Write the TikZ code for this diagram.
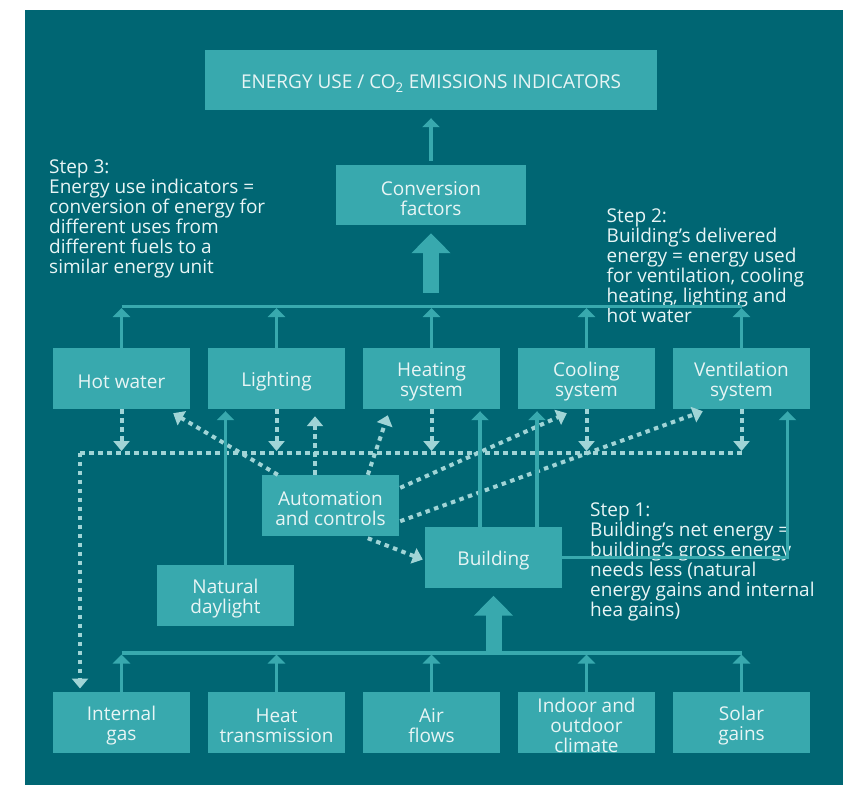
\documentclass[tikz,border=0pt]{standalone}
\usepackage{fontspec}
\setmainfont{Open Sans}
\usetikzlibrary{arrows.meta,calc}
\definecolor{bgc}{HTML}{006673}
\definecolor{boxc}{HTML}{38A9AE}
\definecolor{txtc}{HTML}{E8F5F5}
\definecolor{dotc}{HTML}{A0D4D6}
\newcommand{\fs}{\fontsize{19}{20}\selectfont}
\newcommand{\tallfirst}{\rule{0pt}{20.5pt}}
\begin{document}
\begin{tikzpicture}[x=1pt,y=-1pt,
  box/.style={fill=boxc, text=txtc, minimum width=137pt, minimum height=61pt, align=center, inner sep=0pt, font=\fs},
  steptxt/.style={text=txtc, align=left, inner sep=0pt, font=\fs, anchor=north west},
  solidarr/.style={draw=boxc, line width=3.5pt, -{Triangle[width=17pt,length=9pt]}},
  busline/.style={draw=boxc, line width=3.5pt},
  fatarr/.style={draw=boxc, line width=16pt, -{Triangle[width=38pt,length=20pt]}},
  dotline/.style={draw=dotc, line width=4pt, dash pattern=on 4.5pt off 4.5pt},
  dotarr/.style={dotline, -{Triangle[width=16pt,length=10pt]}}
]
\useasboundingbox (0,0) rectangle (856,785);
\fill[bgc] (25,10) rectangle (843,785);

% nodes
\node[box, minimum width=452pt, minimum height=60pt] (top) at (431,80) {\tallfirst ENERGY USE / CO\textsubscript{2} EMISSIONS INDICATORS};
\node[box, minimum width=190pt, minimum height=60pt] (conv) at (431,195) {\tallfirst Conversion\\factors};

\node[box] (hw) at (121.5,378.5) {\tallfirst Hot water};
\node[box] (lt) at (276.5,378.5) {\tallfirst Lighting};
\node[box] (ht) at (431.5,378.5) {\tallfirst Heating\\system};
\node[box] (cl) at (586.5,378.5) {\tallfirst Cooling\\system};
\node[box] (vt) at (741.5,378.5) {\tallfirst Ventilation\\system};

\node[box] (auto) at (330.5,505.5) {\tallfirst Automation\\and controls};
\node[box] (bld) at (493.5,557.5) {\tallfirst Building};
\node[box] (nd) at (225.5,595.5) {\tallfirst Natural\\daylight};

\node[box] (ig) at (121.5,722.2) {\tallfirst Internal\\gas};
\node[box] (htr) at (276.5,722.2) {\tallfirst Heat\\transmission};
\node[box] (af) at (431.5,722.2) {\tallfirst Air\\flows};
\node[box] (ioc) at (586.5,722.2) {\tallfirst Indoor and\\outdoor\\climate};
\node[box] (sg) at (741.5,722.2) {\tallfirst Solar\\gains};

\node[steptxt] (s3) at (49,160) {Step 3:\\Energy use indicators =\\conversion of energy for\\different uses from\\different fuels to a\\similar energy unit};
\node[steptxt] (s2) at (606.5,209) {Step 2:\\Building’s delivered\\energy = energy used\\for ventilation, cooling\\heating, lighting and\\hot water};
\node[steptxt] (s1) at (590,503) {Step 1:\\Building’s net energy =\\building’s gross energy\\needs less (natural\\energy gains and internal\\hea gains)};

% coordinates
\coordinate (bus1) at (431,306.5);
\coordinate (bus2) at (493.5,653);
\coordinate (dl) at (80,452.5);

% top connectors
\draw[solidarr, shorten <=4pt, shorten >=8pt] (conv.north) -- (top.south);
\draw[fatarr, shorten <=13.5pt, shorten >=8pt] (bus1) -- (conv.south);
\draw[busline] (hw.north |- bus1) -- (vt.north |- bus1);
\foreach \n in {hw,lt,ht,cl,vt} \draw[solidarr, shorten >=1.5pt] (\n.north) -- (\n.north |- bus1);

% dotted collector
\draw[dotline] (dl) -- (vt.south |- dl);
\draw[dotarr, shorten >=3pt] (dl) -- (ig.north -| dl);
\foreach \n in {hw,lt,ht,cl,vt} \draw[dotarr, shorten >=1.5pt] (\n.south) -- (\n.south |- dl);

% automation arrows
\draw[dotarr] ($(auto.north west)+(16,0)$) -- ($(hw.south east)+(-17,4)$);
\draw[dotarr, shorten >=7pt] (auto.north -| 315,0) -- (lt.south -| 315,0);
\draw[dotarr] ($(auto.north west)+(106,0)$) -- ($(ht.south west)+(25,6)$);
\draw[dotarr] ($(auto.north east)+(1,13)$) -- ($(cl.south west)+(49,4)$);
\draw[dotarr] ($(auto.south east)+(1,-15)$) -- ($(vt.south west)+(30,2)$);
\draw[dotarr] ($(auto.south west)+(106,2)$) -- ($(bld.west)+(-2,2)$);

% building arrows
\draw[solidarr, shorten >=2pt] (bld.north -| 480,0) -- (ht.south -| 480,0);
\draw[solidarr, shorten >=2pt] (bld.north -| 537,0) -- (cl.south -| 537,0);
\draw[solidarr, shorten >=2pt] (bld.east) -- (bld.east -| 787.5,0) -- (vt.south -| 787.5,0);
\draw[solidarr, shorten >=2pt] (nd.north) -- (lt.south -| nd.north);

% bottom connectors
\draw[fatarr, shorten >=7.5pt] (bus2) -- (bld.south);
\draw[busline] (ig.north |- bus2) -- (sg.north |- bus2);
\foreach \n in {ig,htr,af,ioc,sg} \draw[solidarr, shorten >=1.5pt] (\n.north) -- (\n.north |- bus2);
\end{tikzpicture}
\end{document}
